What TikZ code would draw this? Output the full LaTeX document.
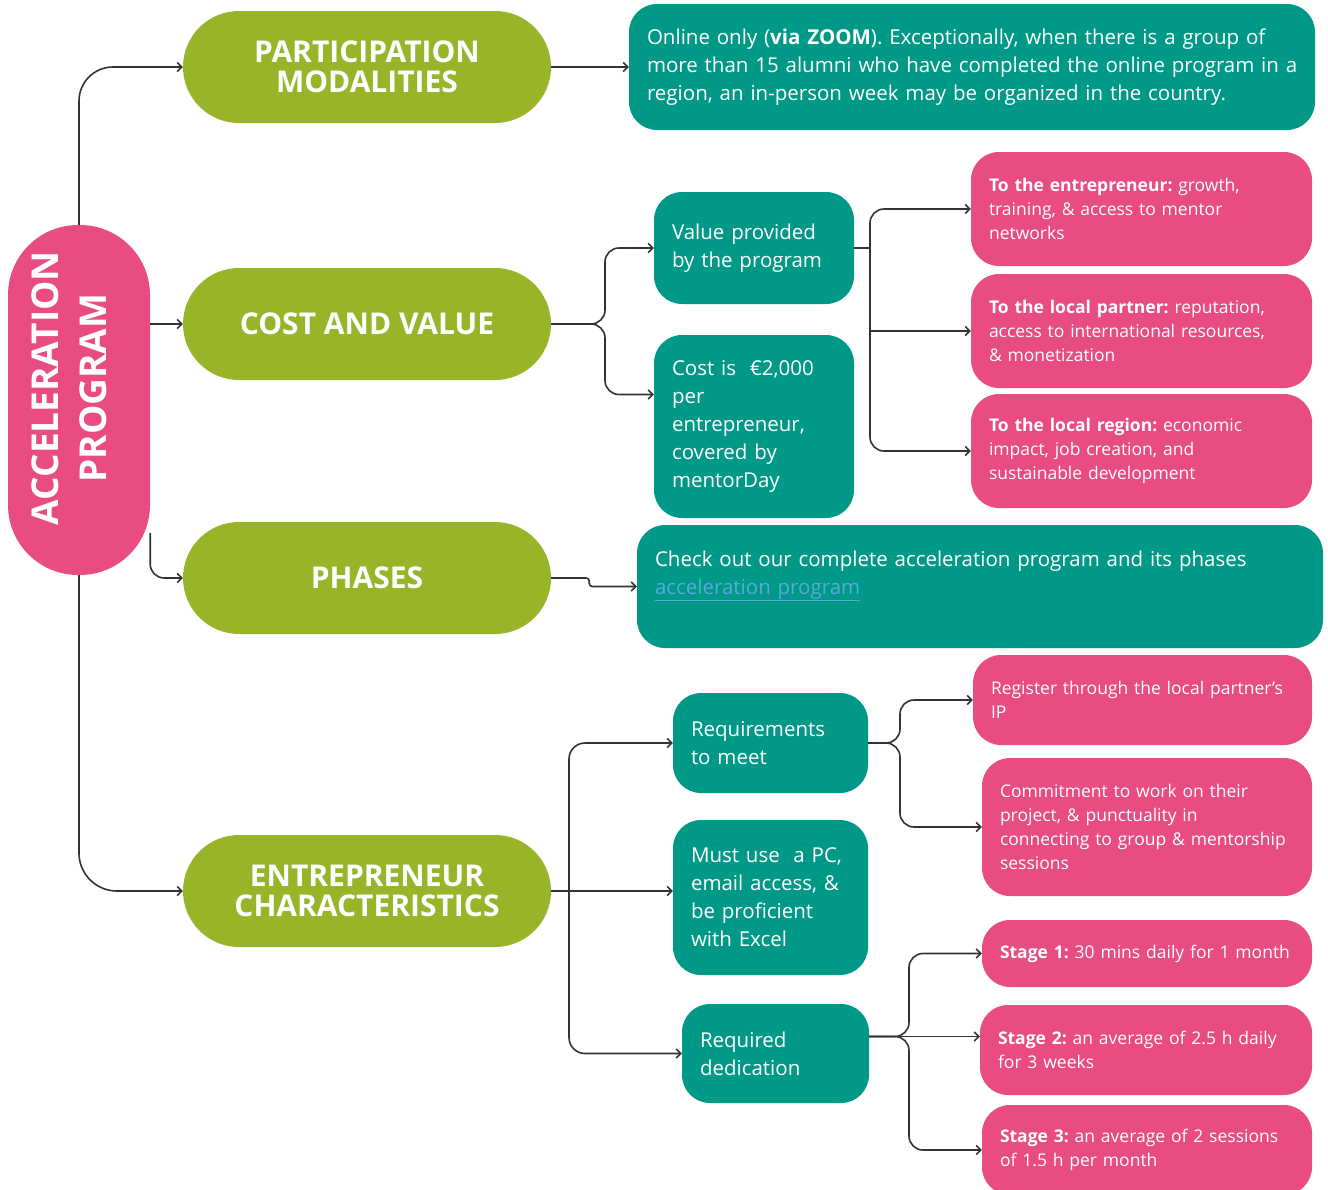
\documentclass[tikz,border=0pt]{standalone}
\usepackage{fontspec}
\setmainfont{Open Sans}
\usetikzlibrary{arrows.meta,calc}
\definecolor{grn}{RGB}{152,181,41}
\definecolor{pnk}{RGB}{232,76,130}
\definecolor{tea}{RGB}{0,153,135}
\definecolor{lnk}{RGB}{86,170,222}
\definecolor{ln}{RGB}{51,51,51}
\frenchspacing
\begin{document}
\begin{tikzpicture}[x=1pt,y=-1pt,
  pill/.style={fill=grn, text=white, rounded corners=56pt, minimum width=368pt, minimum height=112pt,
    align=center, inner sep=0pt, font=\fontsize{30}{30}\selectfont\bfseries},
  tealbox/.style={fill=tea, text=white, rounded corners=28pt, align=left, inner xsep=18pt, inner ysep=0pt,
    font=\fontsize{20.5}{28}\selectfont},
  pinkbox/.style={fill=pnk, text=white, rounded corners=28pt, align=left, inner xsep=18pt, inner ysep=0pt,
    font=\fontsize{17.5}{24}\selectfont},
  conn/.style={draw=ln, line width=1.6pt, -{Straight Barb[length=4.5pt,width=9pt]}},
  plain/.style={draw=ln, line width=1.6pt},
]
\useasboundingbox (0,0) rectangle (1328,1189);

% main node
\node[fill=pnk, minimum width=142pt, minimum height=350pt, rounded corners=70pt, inner sep=0pt] (main) at (79,400) {};
\node[text=white, rotate=90, align=center, inner sep=0pt, font=\fontsize{37}{48}\selectfont\bfseries] (maintext) at (69,388)
  {ACCELERATION\\PROGRAM};

% green pills
\node[pill] (pm) at (367,67) {PARTICIPATION\\MODALITIES};
\node[pill] (cv) at (367,324) {COST AND VALUE};
\node[pill] (ph) at (367,578) {PHASES};
\node[pill] (ec) at (367,891) {ENTREPRENEUR\\CHARACTERISTICS};

% teal boxes
\node[tealbox, minimum width=686pt, minimum height=126pt, text width=650pt] (onl) at (972,67)
  {\mbox{Online only (\textbf{via ZOOM}). Exceptionally, when there is a group of}\\
   \mbox{more than 15 alumni who have completed the online program in a}\\
   \mbox{region, an in-person week may be organized in the country.}};
\node[tealbox, minimum width=200pt, minimum height=112pt, text width=164pt] (val) at (754,248)
  {Value provided\\by the program};
\node[tealbox, minimum width=200pt, minimum height=183pt, text width=164pt] (cost) at (754,426.5)
  {Cost is\ \ €2,000\\per\\entrepreneur,\\covered by\\mentorDay};
\node[tealbox, minimum width=686pt, minimum height=123pt, text width=650pt] (chk) at (980,586.5)
  {Check out our complete acceleration program and its phases\\
   {\color{lnk}\underline{acceleration program}}\\ \mbox{}};
\node[tealbox, minimum width=195pt, minimum height=100pt, text width=159pt] (req) at (770.5,743)
  {Requirements\\to meet};
\node[tealbox, minimum width=195pt, minimum height=155pt, text width=159pt] (must) at (770.5,897.5)
  {Must use\ \ a PC,\\email access, \&\\be proficient\\with Excel};
\node[tealbox, minimum width=187pt, minimum height=99pt, text width=151pt] (ded) at (775.5,1053.5)
  {Required\\dedication};

% pink boxes
\node[pinkbox, minimum width=341pt, minimum height=114pt, text width=305pt] (ent) at (1141.5,209)
  {\textbf{To the entrepreneur:} growth,\\training, \& access to mentor\\networks};
\node[pinkbox, minimum width=341pt, minimum height=114pt, text width=305pt] (lp) at (1141.5,331)
  {\textbf{To the local partner:} reputation,\\access to international resources,\\\& monetization};
\node[pinkbox, minimum width=341pt, minimum height=114pt, text width=305pt] (rg) at (1141.5,451)
  {\textbf{To the local region:} economic\\impact, job creation, and\\sustainable development};
\node[pinkbox, minimum width=339pt, minimum height=90pt, text width=303pt] (regp) at (1142.5,700)
  {Register through the local partner's\\IP};
\node[pinkbox, minimum width=330pt, minimum height=138pt, text width=294pt] (com) at (1147,827)
  {Commitment to work on their\\project, \& punctuality in\\\mbox{connecting to group \& mentorship}\\sessions};
\node[pinkbox, minimum width=330pt, minimum height=67pt, text width=294pt] (st1) at (1147,953.5)
  {\mbox{\textbf{Stage 1:} 30 mins daily for 1 month}};
\node[pinkbox, minimum width=332pt, minimum height=90pt, text width=296pt] (st2) at (1146,1050)
  {\textbf{Stage 2:} an average of 2.5 h daily\\for 3 weeks};
\node[pinkbox, minimum width=330pt, minimum height=90pt, text width=294pt] (st3) at (1147,1150)
  {\textbf{Stage 3:} an average of 2 sessions\\of 1.5 h per month};

% connectors from main
\draw[conn, rounded corners=34pt] (main.north) |- (pm.west);
\draw[conn] (main.east |- cv.west) -- (cv.west);
\draw[conn, rounded corners=14pt] ($(main.south east)+(0,-42)$) |- (ph.west);
\draw[conn, rounded corners=38pt] (main.south) |- (ec.west);

% participation
\draw[conn] (pm.east) -- (onl.west |- pm.east);

% cost and value split
\coordinate (s1) at (605,324);
\draw[conn, rounded corners=14pt] (cv.east) -- (s1) |- (val.west);
\draw[conn, rounded corners=14pt] (cv.east) -- (s1) |- ($(cost.west)+(0,-32)$);

% value split
\coordinate (s2) at (870,248);
\draw[plain] (val.east) -- (s2);
\draw[conn, rounded corners=14pt] (s2) |- (ent.west);
\draw[conn] (s2 |- lp.west) -- (lp.west);
\draw[conn, rounded corners=14pt] (s2) |- (rg.west);

% phases
\draw[conn, rounded corners=3pt] (ph.east) -- ++(38,0) |- (chk.west);

% entrepreneur characteristics
\coordinate (s3) at (569,891);
\draw[conn] (ec.east) -- (ec.east -| must.west);
\draw[conn, rounded corners=16pt] (s3) |- (req.west);
\draw[conn, rounded corners=16pt] (s3) |- (ded.west);

% requirements split
\coordinate (s4) at (900,743);
\draw[conn, rounded corners=14pt] (req.east) -- (s4) |- (regp.west);
\draw[conn, rounded corners=14pt] (req.east) -- (s4) |- (com.west);

% dedication split
\coordinate (dout) at ($(ded.east)+(0,-17)$);
\coordinate (s5) at (909,1036.5);
\draw[conn] (dout) -- (st2.west |- dout);
\draw[conn, rounded corners=14pt] (dout) -- (s5) |- (st1.west);
\draw[conn, rounded corners=14pt] (dout) -- (s5) |- (st3.west);
\end{tikzpicture}
\end{document}
